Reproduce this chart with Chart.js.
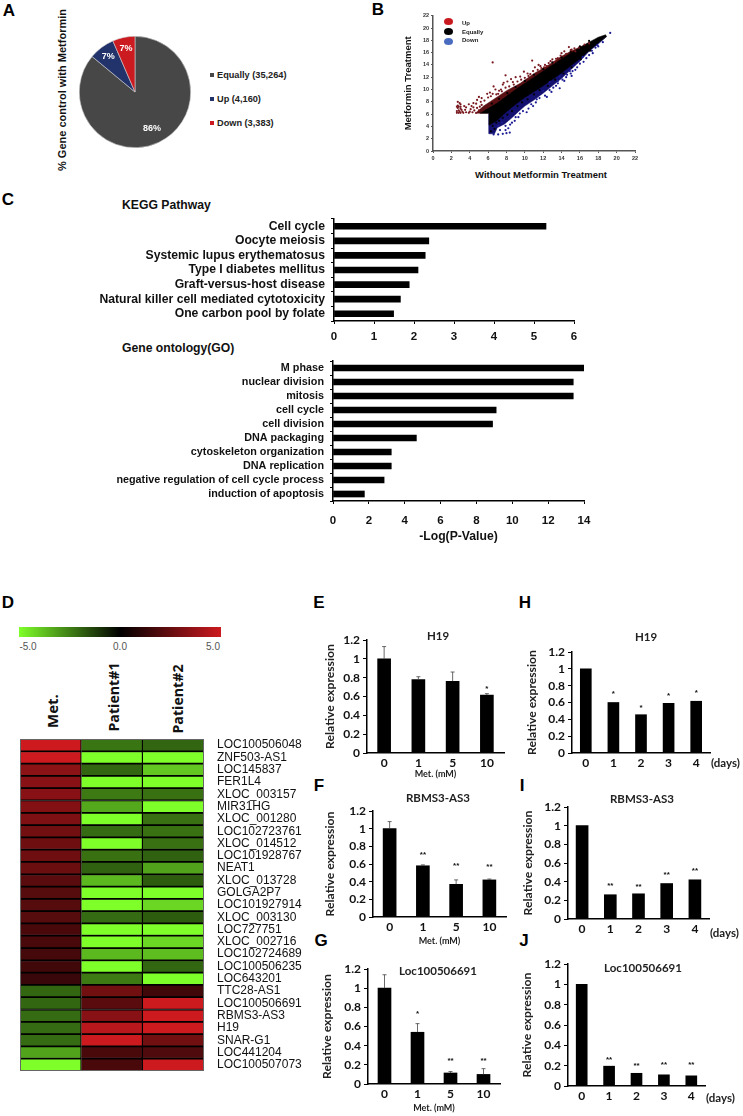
<!DOCTYPE html>
<html>
<head>
<meta charset="utf-8">
<title>Metformin lncRNA figure</title>
<script src="https://cdn.jsdelivr.net/npm/chart.js@4"></script>
<style>
  html, body { margin: 0; padding: 0; background: #fff; }
  #page { position: relative; width: 743px; height: 1116px; overflow: hidden; }
  #page canvas { position: absolute; }
  .txt { position: absolute; white-space: nowrap; color: #111; font-family: "Liberation Sans", Arial, sans-serif; line-height: 1; }
</style>
</head>
<body>
<div id="page"></div>
<script>
// panel A
const pieLabels = ['Equally (35,264)', 'Up (4,160)', 'Down (3,383)'];
const pieValues = [86, 7.5, 6.5];
const pieText = ['86%', '7%', '7%'];
const pieColors = ['#474747', '#22336b', '#cb1a20'];

// panel B, outlines of the dense clouds and the loose points
const scatterTicks = [0, 2, 4, 6, 8, 10, 12, 14, 16, 18, 20, 22];
const upCloud = [[4.6,6.1],[5.5,7.3],[6.5,8.3],[8,9.8],[9.5,11],[11,12.6],[12.5,13.9],[14,15.4],[15,16.2],[16,16.9],[17,17.6],[17,17],[6,6.1]];
const equalCloud = [[5.1,6.1],[7,7.8],[9,10],[11,12],[13,14],[15,15.9],[16,16.8],[17,17.7],[18,18.5],[18.8,18.9],[18.9,18.6],[18,17.6],[16,15],[14,12.7],[12,10.6],[10,8.7],[9,7.6],[8,6.4],[7,5],[6.1,4.2],[6.1,6.1]];
const downCloud = [[6.1,6.1],[6.1,2.8],[6.7,2.8],[7,3.8],[7.8,4.4],[8.6,5.4],[9.3,6.4],[10,7.3],[11,8.3],[12,9.4],[13,10.6],[14,11.8],[15,13.2],[16,14.6],[17,16.2],[18,17.4],[18.9,18.6]];
const upPoints = [[6.5,14.4],[2.7,8],[2.9,7.8],[2.7,7.4],[3,7.6],[2.7,7],[3,6.9],[2.8,6.6],[3.2,6.4],[3.4,7.3],[3.9,7.6],[4.4,7.8],[4.8,8.3],[5,8.8],[5.3,8.6],[5.9,9.3],[6.2,9.5],[6.5,9.3],[6.8,10],[7.4,10],[7.6,10.8],[7.7,11.1],[7.9,12.3],[8.1,11.3],[8.5,11.7],[9,12],[9.5,12.1],[9.9,12.9],[10.6,12.5],[10.8,14.7],[11.1,13.6],[11.5,14],[12.2,14],[12.4,13.8],[12.8,14.6],[13.4,15],[13.9,15.5],[14.3,16.2],[14.8,16.9],[15.1,16.5],[15.5,16.2],[15.9,16.8],[16.5,17.3],[17,17.5],[6.6,10.5],[7.2,9.8],[4,6.4],[5,6.6],[8.8,10.8],[10.4,12.2],[11.8,13.5],[13,14.9],
  [3.6,7.1],[4.2,7.3],[4.7,7.7],[5.2,8],[5.6,8.2],[6,8.7],[6.3,8.9],[6.9,9.2],[7.1,9.3],[7.5,9.7],[7.9,10.3],[8.3,10.5],[8.7,11.2],[9.2,11.3],[9.6,11.6],[10,11.9],[10.3,12.6],[10.9,13],[11.4,13.2],[11.7,13.8],[12.1,13.6],[12.6,14.3],[13.2,14.4],[13.6,15.1],[14,15.9],[14.5,15.8],[15,16.4],[15.4,16.7],
  [2.6,6.2],[2.8,6.2],[3,6.2],[2.6,6.5],[2.9,6.4],[3.1,6.7],[2.6,7.2],[2.8,7.2],[3,7.2],[3.3,6.2],[3.6,6.3],[3.5,6.7],[3.9,6.2],[4.1,6.8],[4.3,6.3],[4.5,6.6],[4.7,6.2],[4.8,7],[5.1,7.2],[4.4,7.1],[5.3,7.5]];
const downPoints = [[19.3,19.2],[18.5,17.7],[17.7,16.8],[17.4,15.9],[16.3,15.3],[15.1,12.2],[15,12.6],[14.9,13],[14.6,12.4],[13.8,12.1],[13.6,11.4],[12.7,11.2],[13.8,10.2],[12,9.8],[9.45,6.1],[8.36,3],[7.9,4.1],[9,5.5],[8.6,4.6],[10.2,6.3],[10.9,7.3],[11.3,8.4],[12.4,8.8],[12.9,9.6],[13.4,10.6],[14.3,11.4],[15.7,13.6],[16.4,14.5],[17,15.6],[18,17],[7.1,2.7],[7.6,2.8],[8,2.9],[6.6,2.7],[7.3,3.4],[8.2,3.7],[7.5,4.6],
  [7.1,4.1],[7.9,3.4],[8.4,4.3],[8.9,4.9],[9.3,5.5],[9.8,6.5],[10.4,6.9],[10.7,7.6],[11.2,7.9],[11.6,8.6],[12.2,9],[12.7,9.9],[13.1,10.3],[13.6,11],[14.1,11.6],[14.5,12],[15.2,13],[15.5,13.2],[16,14.2],[16.7,15.1],[17.3,16.3],[17.9,17.2]];
const equalPoints = [[6.3,3.2],[6.5,4.1],[6.7,3.6],[6.9,4.6],[7.2,4.9],[7.6,5.4],[8.1,5.9],[8.6,6.5],[9.2,7.3],[9.7,7.9],[10.3,8.4],[11,9.2],[11.6,9.9],[12.5,10.6],[13.3,11.6],[14.2,12.6],[15.1,13.6],[16.1,14.9],[17.1,16.3],[5.8,6.6],[6.4,7.7],[7.2,8.5],[8.1,9.4],[9,10.4],[10,11.4],[11,12.4],[12,13.3],[13,14.4],[14,15.2],[15,16.1],[16,17],[17,17.9]];

// panel C
const keggLabels = ['Cell cycle', 'Oocyte meiosis', 'Systemic lupus erythematosus', 'Type I diabetes mellitus', 'Graft-versus-host disease', 'Natural killer cell mediated cytotoxicity', 'One carbon pool by folate'];
const keggValues = [5.3, 2.37, 2.28, 2.1, 1.88, 1.66, 1.49];
const goLabels = ['M phase', 'nuclear division', 'mitosis', 'cell cycle', 'cell division', 'DNA packaging', 'cytoskeleton organization', 'DNA replication', 'negative regulation of cell cycle process', 'induction of apoptosis'];
const goValues = [14, 13.4, 13.4, 9.1, 8.9, 4.65, 3.25, 3.25, 2.85, 1.75];

// panel D
const genes = ['LOC100506048', 'ZNF503-AS1', 'LOC145837', 'FER1L4', 'XLOC_003157', 'MIR31HG', 'XLOC_001280', 'LOC102723761', 'XLOC_014512', 'LOC101928767', 'NEAT1', 'XLOC_013728', 'GOLGA2P7', 'LOC101927914', 'XLOC_003130', 'LOC727751', 'XLOC_002716', 'LOC102724689', 'LOC100506235', 'LOC643201', 'TTC28-AS1', 'LOC100506691', 'RBMS3-AS3', 'H19', 'SNAR-G1', 'LOC441204', 'LOC100507073'];
const heatMet = [5, 5, 3.4, 3.3, 3.3, 3.2, 3.1, 2.8, 2.7, 2.7, 2.6, 2.2, 2.1, 2.1, 2.1, 1.8, 1.8, 1.7, 1.6, 1.4, -2, -2, -2.1, -2.1, -2.1, -3.2, -5];
const heatP1 = [-2.3, -5, -2, -5, -2.4, -3.3, -5, -2.1, -5, -2.2, -1.9, -3.6, -5, -5, -2.1, -5, -5, -3.6, -5, -2.4, 2.8, 2.2, 3.3, 4.5, 5, 1.8, 1.8];
const heatP2 = [-2, -5, -3.9, -5, -2.2, -5, -2.2, -2.2, -2.2, -1.9, -3.2, -1.8, -5, -4.2, -1.8, -5, -4.2, -3.7, -2, -5, 1.6, 5, 5, 5, 2.8, 1.9, 5];

// panels E to J
const doseLabels = ['0', '1', '5', '10'];
const dayLabels = ['0', '1', '2', '3', '4'];
const yTicks = [0, 0.2, 0.4, 0.6, 0.8, 1, 1.2];
const h19Dose = [1, 0.78, 0.76, 0.615];
const h19DoseErr = [1.13, 0.81, 0.86, 0.63];
const h19DoseStars = ['', '', '', '*'];
const h19DoseStarY = [0, 0, 0, 0.69];
const rbmsDose = [1, 0.58, 0.37, 0.42];
const rbmsDoseErr = [1.08, 0.59, 0.42, 0.43];
const rbmsDoseStars = ['', '**', '**', '**'];
const rbmsDoseStarY = [0, 0.72, 0.59, 0.58];
const locDose = [1, 0.54, 0.115, 0.1];
const locDoseErr = [1.14, 0.63, 0.13, 0.16];
const locDoseStars = ['', '*', '**', '**'];
const locDoseStarY = [0, 0.74, 0.25, 0.25];
const h19Days = [1, 0.6, 0.455, 0.59, 0.615];
const h19DaysStars = ['', '*', '*', '*', '*'];
const h19DaysStarY = [0, 0.71, 0.55, 0.69, 0.73];
const rbmsDays = [1, 0.26, 0.27, 0.38, 0.42];
const rbmsDaysStars = ['', '**', '**', '**', '**'];
const rbmsDaysStarY = [0, 0.37, 0.36, 0.48, 0.53];
const locDays = [1, 0.195, 0.125, 0.11, 0.1];
const locDaysStars = ['', '**', '**', '**', '**'];
const locDaysStarY = [0, 0.27, 0.21, 0.22, 0.22];

const page = document.getElementById('page');
const ARIAL = '"Liberation Sans", Arial, sans-serif';
const LATO = 'Lato, Carlito, sans-serif';

function addCanvas(x, y, w, h) {
  const c = document.createElement('canvas');
  c.width = w;
  c.height = h;
  c.style.left = x + 'px';
  c.style.top = y + 'px';
  c.style.width = w + 'px';
  c.style.height = h + 'px';
  page.appendChild(c);
  return c;
}

// x, y is the centre of the text unless css says otherwise
function addText(str, x, y, css, rotated) {
  const d = document.createElement('div');
  d.className = 'txt';
  d.textContent = str;
  d.style.cssText = 'left:' + x + 'px;top:' + y + 'px;transform:translate(-50%,-50%)' + (rotated ? ' rotate(-90deg)' : '') + ';' + (css || '');
  page.appendChild(d);
  return d;
}

function addLeftText(str, x, y, css) {
  const d = addText(str, x, y, css);
  d.style.transform = 'translateY(-50%)';
  return d;
}

// axis box of a set size, and no extra room for overhanging tick labels
function fixedBox(size) {
  return (scale) => {
    if (scale.isHorizontal()) scale.height = size;
    else scale.width = size;
    scale.paddingTop = 0;
    scale.paddingBottom = 0;
    scale.paddingLeft = 0;
    scale.paddingRight = 0;
  };
}

function axisLine(width) {
  return { display: true, color: '#000', width: width };
}

// panel letters
[['A', 9, 11], ['B', 378, 10], ['C', 8, 200], ['D', 8, 603], ['E', 319, 603], ['F', 319, 786], ['G', 321, 941], ['H', 525, 603], ['I', 522, 786], ['J', 524, 941]].forEach((p) => {
  addText(p[0], p[1], p[2], 'font:bold 17px ' + ARIAL + ';color:#000');
});

// A - pie
addText('% Gene control with Metformin', 62, 90, 'font:bold 11px ' + ARIAL, true);
const pieLegendY = [75, 99, 123];
pieLabels.forEach((label, i) => {
  const sq = document.createElement('div');
  sq.style.cssText = 'position:absolute;left:210px;top:' + (pieLegendY[i] - 2) + 'px;width:4px;height:4px;background:' + pieColors[i];
  page.appendChild(sq);
  addLeftText(label, 217, pieLegendY[i], 'font:bold 9.2px ' + ARIAL + ';color:#222');
});
new Chart(addCanvas(79, 36, 112, 112), {
  type: 'pie',
  data: {
    labels: pieLabels,
    datasets: [{ data: pieValues, backgroundColor: pieColors, borderColor: '#cfcfcf', borderWidth: 0.6 }]
  },
  options: {
    responsive: false,
    animation: false,
    plugins: { legend: { display: false }, tooltip: { enabled: false } }
  },
  plugins: [{
    id: 'pieText',
    afterDatasetsDraw(chart) {
      const ctx = chart.ctx;
      ctx.save();
      ctx.font = 'bold 9px ' + ARIAL;
      ctx.fillStyle = '#fff';
      ctx.textAlign = 'center';
      ctx.textBaseline = 'middle';
      chart.getDatasetMeta(0).data.forEach((arc, i) => {
        const mid = (arc.startAngle + arc.endAngle) / 2;
        const r = arc.outerRadius * (i === 0 ? 0.72 : 0.8);
        ctx.fillText(pieText[i], arc.x + Math.cos(mid) * r, arc.y + Math.sin(mid) * r);
      });
      ctx.restore();
    }
  }]
});

// B - scatter
const scatterLegend = [['Up', '#c8191f', 21, 23], ['Equally', '#000', 31, 32], ['Down', '#4a6cc0', 41, 40]];
scatterLegend.forEach((l) => {
  const dot = document.createElement('div');
  dot.style.cssText = 'position:absolute;left:444px;top:' + (l[2] - 3.5) + 'px;width:9px;height:7px;border-radius:50%;z-index:2;background:' + l[1];
  page.appendChild(dot);
  addLeftText(l[0], 462, l[3], 'font:bold 6px ' + ARIAL + ';color:#222;z-index:2');
});
function cloud(points, color, order) {
  return {
    data: points.map((p) => ({ x: p[0], y: p[1] })),
    showLine: true,
    fill: 'shape',
    backgroundColor: color,
    borderColor: color,
    borderWidth: 0.5,
    pointRadius: 0,
    order: order
  };
}
function loose(points, color, order) {
  return {
    data: points.map((p) => ({ x: p[0], y: p[1] })),
    backgroundColor: color,
    borderColor: color,
    pointRadius: 1.1,
    borderWidth: 0,
    order: order
  };
}
function scatterAxis() {
  return {
    type: 'linear',
    min: 0,
    max: 22,
    afterBuildTicks: (scale) => { scale.ticks = scatterTicks.map((v) => ({ value: v })); },
    ticks: { font: { family: ARIAL, size: 5.5, weight: 'bold' }, color: '#333', padding: 2, maxRotation: 0, autoSkip: false },
    grid: { drawOnChartArea: false, color: '#555', tickLength: 2 },
    border: { display: true, color: '#555', width: 1.5 }
  };
}
const scatterX = scatterAxis();
scatterX.afterFit = fixedBox(28);
const scatterY = scatterAxis();
scatterY.afterFit = fixedBox(29);
scatterY.title = { display: true, text: 'Metformin Treatment', color: '#111', font: { family: ARIAL, size: 9.5, weight: 'bold', lineHeight: 1 }, padding: 0 };
addText('Without Metformin Treatment', 541, 174, 'font:bold 9.5px ' + ARIAL);
new Chart(addCanvas(404, 9, 238, 170), {
  type: 'scatter',
  data: {
    datasets: [
      loose(equalPoints, '#000', 0),
      loose(upPoints, '#7a1a20', 1),
      loose(downPoints, '#1c1c94', 2),
      cloud(equalCloud, '#000', 3),
      cloud(upCloud, '#5a1013', 4),
      cloud(downCloud, '#141070', 5)
    ]
  },
  options: {
    responsive: false,
    animation: false,
    layout: { padding: { top: 6.7, right: 7 } },
    scales: { x: scatterX, y: scatterY },
    plugins: { legend: { display: false }, tooltip: { enabled: false } }
  }
});

// C - horizontal bars
function hBarPanel(cfg) {
  const w = cfg.right - cfg.canvasLeft + 8;
  const h = cfg.bottom - cfg.top;
  new Chart(addCanvas(cfg.canvasLeft, cfg.top, w, h), {
    type: 'bar',
    data: { labels: cfg.labels, datasets: [{ data: cfg.values, backgroundColor: '#000', barThickness: 6 }] },
    options: {
      indexAxis: 'y',
      responsive: false,
      animation: false,
      layout: { padding: { right: 8, top: 2 } },
      scales: {
        x: {
          min: 0,
          max: cfg.max,
          ticks: { stepSize: cfg.step, font: { family: ARIAL, size: 11.5, weight: 'bold' }, color: '#111', padding: cfg.tickPad, maxRotation: 0 },
          grid: { drawOnChartArea: false, color: '#000', tickLength: 3 },
          border: axisLine(1.5),
          afterFit: fixedBox(cfg.bottom - cfg.axisY),
          title: cfg.xTitle ? { display: true, text: cfg.xTitle, color: '#111', font: { family: ARIAL, size: 12.2, weight: 'bold', lineHeight: 1 }, padding: 0 } : { display: false }
        },
        y: {
          ticks: { font: { family: ARIAL, size: cfg.labelSize, weight: 'bold' }, color: '#111', padding: 6, autoSkip: false },
          grid: { drawOnChartArea: false, color: '#000', tickLength: 3 },
          border: axisLine(1.5),
          afterFit: fixedBox(cfg.axisX - cfg.canvasLeft)
        }
      },
      plugins: { legend: { display: false }, tooltip: { enabled: false } }
    }
  });
}
addLeftText('KEGG Pathway', 122, 205, 'font:bold 12.2px ' + ARIAL);
addLeftText('Gene ontology(GO)', 122, 348, 'font:bold 12.2px ' + ARIAL);
hBarPanel({ labels: keggLabels, values: keggValues, max: 6, step: 1, canvasLeft: 90, axisX: 334, right: 574, top: 217, axisY: 321, bottom: 345, tickPad: 6, labelSize: 12.2 });
hBarPanel({ labels: goLabels, values: goValues, max: 14, step: 2, canvasLeft: 90, axisX: 333, right: 584, top: 359, axisY: 501, bottom: 543, tickPad: 10, labelSize: 10.8, xTitle: '-Log(P-Value)' });

// D - heatmap, colour bar and labels
const cb = document.createElement('div');
cb.style.cssText = 'position:absolute;left:19px;top:627px;width:202px;height:10px;background:linear-gradient(to right,#7fff2a,#000 50%,#cc1a1f)';
page.appendChild(cb);
addText('-5.0', 28, 646, 'font:10px ' + ARIAL + ';color:#555');
addText('0.0', 120, 646, 'font:10px ' + ARIAL + ';color:#555');
addText('5.0', 213, 646, 'font:10px ' + ARIAL + ';color:#555');
addText('Met.', 52, 711, 'font:bold 15px "Open Sans",sans-serif', true);
addText('Patient#1', 113, 697, 'font:bold 14.2px "Open Sans",sans-serif', true);
addText('Patient#2', 177, 699, 'font:bold 14.2px "Open Sans",sans-serif', true);

function heatColor(v) {
  const t = Math.abs(v) / 5;
  if (v >= 0) return 'rgb(' + Math.round(204 * t) + ',' + Math.round(26 * t) + ',' + Math.round(31 * t) + ')';
  return 'rgb(' + Math.round(127 * t) + ',' + Math.round(255 * t) + ',' + Math.round(42 * t) + ')';
}
function heatSet(values) {
  return {
    data: values.map(() => 1),
    backgroundColor: values.map(heatColor),
    borderColor: '#000',
    borderWidth: 1.2,
    barPercentage: 1,
    categoryPercentage: 1
  };
}
new Chart(addCanvas(20, 739, 300, 332), {
  type: 'bar',
  data: { labels: genes, datasets: [heatSet(heatMet), heatSet(heatP1), heatSet(heatP2)] },
  options: {
    indexAxis: 'y',
    responsive: false,
    animation: false,
    scales: {
      x: { stacked: true, min: 0, max: 3, display: false },
      y: {
        stacked: true,
        position: 'right',
        ticks: { font: { family: ARIAL, size: 12 }, color: '#111', padding: 5, autoSkip: false },
        grid: { display: false, tickLength: 8 },
        border: { display: false },
        afterFit: fixedBox(116)
      }
    },
    plugins: { legend: { display: false }, tooltip: { enabled: false } }
  },
  plugins: [{
    id: 'heatFrame',
    afterDraw(chart) {
      const a = chart.chartArea;
      chart.ctx.save();
      chart.ctx.strokeStyle = '#666';
      chart.ctx.strokeRect(a.left + 0.5, a.top + 0.5, a.width - 1, a.height - 1);
      chart.ctx.restore();
    }
  }]
});

// E to J - bars with error bars and stars
function barPanel(cfg) {
  const fs = 12.2;
  const left = Math.round(cfg.yTitleX - fs / 2);
  const top = cfg.top - 8;
  const bottom = cfg.bottom;
  new Chart(addCanvas(left, top, cfg.right - left + 4, bottom - top), {
    type: 'bar',
    data: { labels: cfg.labels, datasets: [{ data: cfg.values, backgroundColor: '#000', barThickness: cfg.barW }] },
    options: {
      responsive: false,
      animation: false,
      layout: { padding: { top: 8, right: 4 } },
      scales: {
        x: {
          ticks: { font: { family: LATO, size: 12, weight: 'bold' }, color: '#111', padding: 3, maxRotation: 0 },
          grid: { display: false, drawTicks: false },
          border: axisLine(1.5),
          afterFit: fixedBox(bottom - cfg.axisY),
          title: cfg.xTitle ? { display: true, text: cfg.xTitle, color: '#222', font: { family: LATO, size: 9, weight: 'bold', lineHeight: 1 }, padding: 0 } : { display: false }
        },
        y: {
          min: 0,
          max: 1.2,
          afterBuildTicks: (scale) => { scale.ticks = yTicks.map((v) => ({ value: v })); },
          ticks: { font: { family: LATO, size: 12, weight: 'bold' }, color: '#111', padding: 3, autoSkip: false, callback: (v) => String(v) },
          grid: { drawOnChartArea: false, color: '#000', tickLength: 4 },
          border: axisLine(1.5),
          afterFit: fixedBox(cfg.axisX - left),
          title: { display: true, text: 'Relative expression', color: '#222', font: { family: LATO, size: fs, weight: 'bold', lineHeight: 1 }, padding: 0 }
        }
      },
      plugins: { legend: { display: false }, tooltip: { enabled: false } }
    },
    plugins: [{
      id: 'errStars',
      afterDatasetsDraw(chart) {
        const ctx = chart.ctx;
        const x = chart.scales.x;
        const y = chart.scales.y;
        ctx.save();
        ctx.strokeStyle = '#444';
        ctx.lineWidth = 0.8;
        (cfg.err || []).forEach((top, i) => {
          const px = x.getPixelForValue(i);
          ctx.beginPath();
          ctx.moveTo(px, y.getPixelForValue(cfg.values[i]));
          ctx.lineTo(px, y.getPixelForValue(top));
          ctx.moveTo(px - 2, y.getPixelForValue(top));
          ctx.lineTo(px + 2, y.getPixelForValue(top));
          ctx.stroke();
        });
        ctx.font = 'bold 8px ' + ARIAL;
        ctx.fillStyle = '#111';
        ctx.textAlign = 'center';
        ctx.textBaseline = 'middle';
        cfg.stars.forEach((s, i) => {
          if (s) ctx.fillText(s, x.getPixelForValue(i), y.getPixelForValue(cfg.starY[i]) + 1);
        });
        ctx.restore();
      }
    }]
  });
  addText(cfg.title, cfg.titleX, cfg.titleY, 'font:bold 11.5px ' + LATO + ';color:#222;z-index:2');
  if (cfg.daysY) addLeftText('(days)', cfg.right + 1, cfg.daysY, 'font:bold 11.5px ' + LATO + ';color:#222');
}

barPanel({ labels: doseLabels, values: h19Dose, err: h19DoseErr, stars: h19DoseStars, starY: h19DoseStarY, title: 'H19', titleX: 438, titleY: 635, xTitle: 'Met. (mM)', yTitleX: 330, axisX: 367, axisY: 753, top: 640, right: 504, bottom: 779, barW: 13 });
barPanel({ labels: doseLabels, values: rbmsDose, err: rbmsDoseErr, stars: rbmsDoseStars, starY: rbmsDoseStarY, title: 'RBMS3-AS3', titleX: 438, titleY: 797, xTitle: 'Met. (mM)', yTitleX: 330, axisX: 373, axisY: 917, top: 811, right: 506, bottom: 946, barW: 13 });
barPanel({ labels: doseLabels, values: locDose, err: locDoseErr, stars: locDoseStars, starY: locDoseStarY, title: 'Loc100506691', titleX: 438, titleY: 970, xTitle: 'Met. (mM)', yTitleX: 327, axisX: 368, axisY: 1084, top: 969, right: 500, bottom: 1113, barW: 13 });
barPanel({ labels: dayLabels, values: h19Days, stars: h19DaysStars, starY: h19DaysStarY, title: 'H19', titleX: 646, titleY: 636, yTitleX: 532, axisX: 572, axisY: 753, top: 652, right: 710, bottom: 772, barW: 11, daysY: 762 });
barPanel({ labels: dayLabels, values: rbmsDays, stars: rbmsDaysStars, starY: rbmsDaysStarY, title: 'RBMS3-AS3', titleX: 642, titleY: 798, yTitleX: 528, axisX: 568, axisY: 919, top: 807, right: 709, bottom: 940, barW: 12, daysY: 932 });
barPanel({ labels: dayLabels, values: locDays, stars: locDaysStars, starY: locDaysStarY, title: 'Loc100506691', titleX: 643, titleY: 967, yTitleX: 527, axisX: 568, axisY: 1086, top: 964, right: 705, bottom: 1106, barW: 11, daysY: 1097 });
</script>
</body>
</html>
